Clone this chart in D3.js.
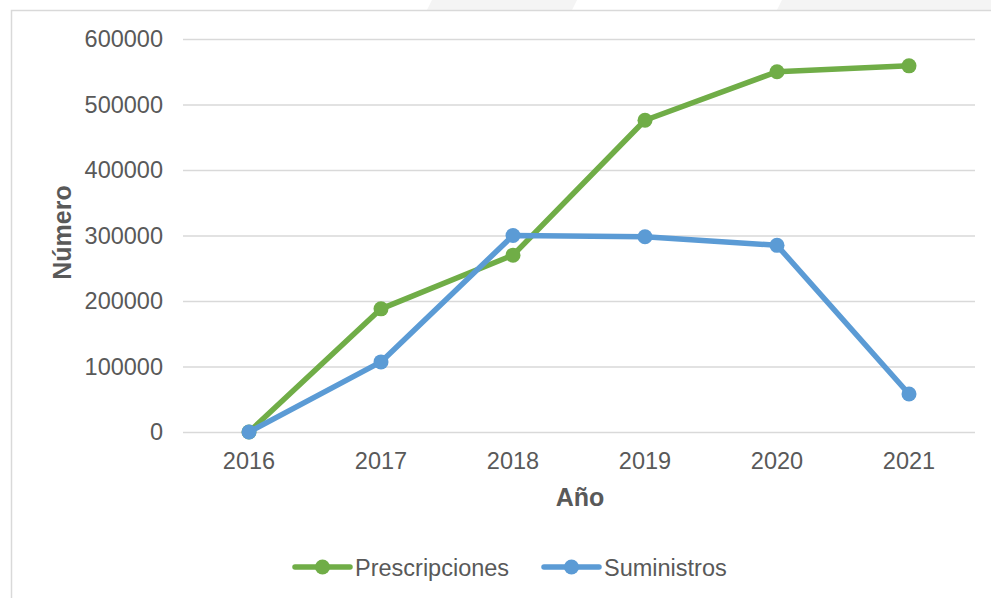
<!DOCTYPE html>
<html lang="es">
<head>
<meta charset="UTF-8">
<title>Prescripciones y Suministros</title>
<script src="https://d3js.org/d3.v7.min.js"></script>
<style>
  body { margin: 0; background: #fff; }
  svg text { font-family: "Liberation Sans", Arial, sans-serif; fill: #595959; }
</style>
</head>
<body>
<div id="chart"></div>
<script>
// datos
const years = ["2016", "2017", "2018", "2019", "2020", "2021"];
const prescripciones = [0, 188000, 270000, 476000, 550000, 559000];
const suministros = [0, 107000, 300000, 298000, 285000, 58000];
const yTicks = [0, 100000, 200000, 300000, 400000, 500000, 600000];

const W = 991, H = 598;
const margin = {top: 39, right: 16, bottom: 166, left: 183};
const width = W - margin.left - margin.right,
      height = H - margin.top - margin.bottom;

const svg = d3.select("#chart").append("svg")
    .attr("width", W)
    .attr("height", H);

// marca de agua del fondo, arriba
svg.append("path").attr("d", "M432,0 L577,0 L572,10 L427,10 Z").attr("fill", "#f4f4f4");
svg.append("path").attr("d", "M782,0 L991,0 L991,10 L777,10 Z").attr("fill", "#f4f4f4");

// borde del área del gráfico
svg.append("rect")
    .attr("x", 11.5).attr("y", 10.5)
    .attr("width", W + 20).attr("height", H + 20)
    .attr("fill", "#fff")
    .attr("stroke", "#d9d9d9").attr("stroke-width", 1.5);

const g = svg.append("g")
    .attr("transform", "translate(" + margin.left + "," + margin.top + ")");

const x = d3.scaleBand().domain(years).range([0, width]);
const y = d3.scaleLinear().domain([0, 600000]).range([height, 0]);

// líneas de cuadrícula
const yAxis = g.append("g")
    .call(d3.axisLeft(y).tickValues(yTicks).tickSize(-width).tickPadding(20).tickFormat(d3.format("d")));
yAxis.select(".domain").remove();
yAxis.selectAll("line").attr("stroke", "#d9d9d9").attr("stroke-width", 1.5);
yAxis.selectAll("text").attr("font-size", "23.5px").attr("fill", "#595959");

const xAxis = g.append("g")
    .attr("transform", "translate(0," + height + ")")
    .call(d3.axisBottom(x).tickSize(0).tickPadding(20));
xAxis.select(".domain").remove();
xAxis.selectAll("text").attr("font-size", "23.5px").attr("fill", "#595959");

// títulos de ejes
g.append("text")
    .attr("x", width / 2 + 1)
    .attr("y", height + 74)
    .attr("text-anchor", "middle")
    .attr("font-size", "25px")
    .attr("font-weight", "bold")
    .text("Año");

g.append("text")
    .attr("transform", "translate(" + (-112) + "," + (height / 2 - 3) + ") rotate(-90)")
    .attr("text-anchor", "middle")
    .attr("font-size", "25px")
    .attr("font-weight", "bold")
    .text("Número");

const series = [
  {name: "Prescripciones", values: prescripciones, color: "#70ad47"},
  {name: "Suministros", values: suministros, color: "#5b9bd5"}
];

const line = d3.line()
    .x((d, i) => x(years[i]) + x.bandwidth() / 2)
    .y(d => y(d));

series.forEach(s => {
  g.append("path")
      .datum(s.values)
      .attr("fill", "none")
      .attr("stroke", s.color)
      .attr("stroke-width", 5.5)
      .attr("stroke-linejoin", "round")
      .attr("stroke-linecap", "round")
      .attr("d", line);
  g.selectAll(null)
      .data(s.values)
      .enter().append("circle")
      .attr("cx", (d, i) => x(years[i]) + x.bandwidth() / 2)
      .attr("cy", d => y(d))
      .attr("r", 7.5)
      .attr("fill", s.color);
});

// leyenda
const legendX = [295, 544];
const legend = svg.append("g");
series.forEach((s, i) => {
  const lg = legend.append("g").attr("transform", "translate(" + legendX[i] + ",567)");
  lg.append("line").attr("x1", 0).attr("x2", 55).attr("y1", 0).attr("y2", 0)
      .attr("stroke", s.color).attr("stroke-width", 5.5).attr("stroke-linecap", "round");
  lg.append("circle").attr("cx", 27.5).attr("cy", 0).attr("r", 7.5).attr("fill", s.color);
  lg.append("text").attr("x", 60).attr("y", 8.5)
      .attr("font-size", "23.5px")
      .text(s.name);
});
</script>
</body>
</html>
